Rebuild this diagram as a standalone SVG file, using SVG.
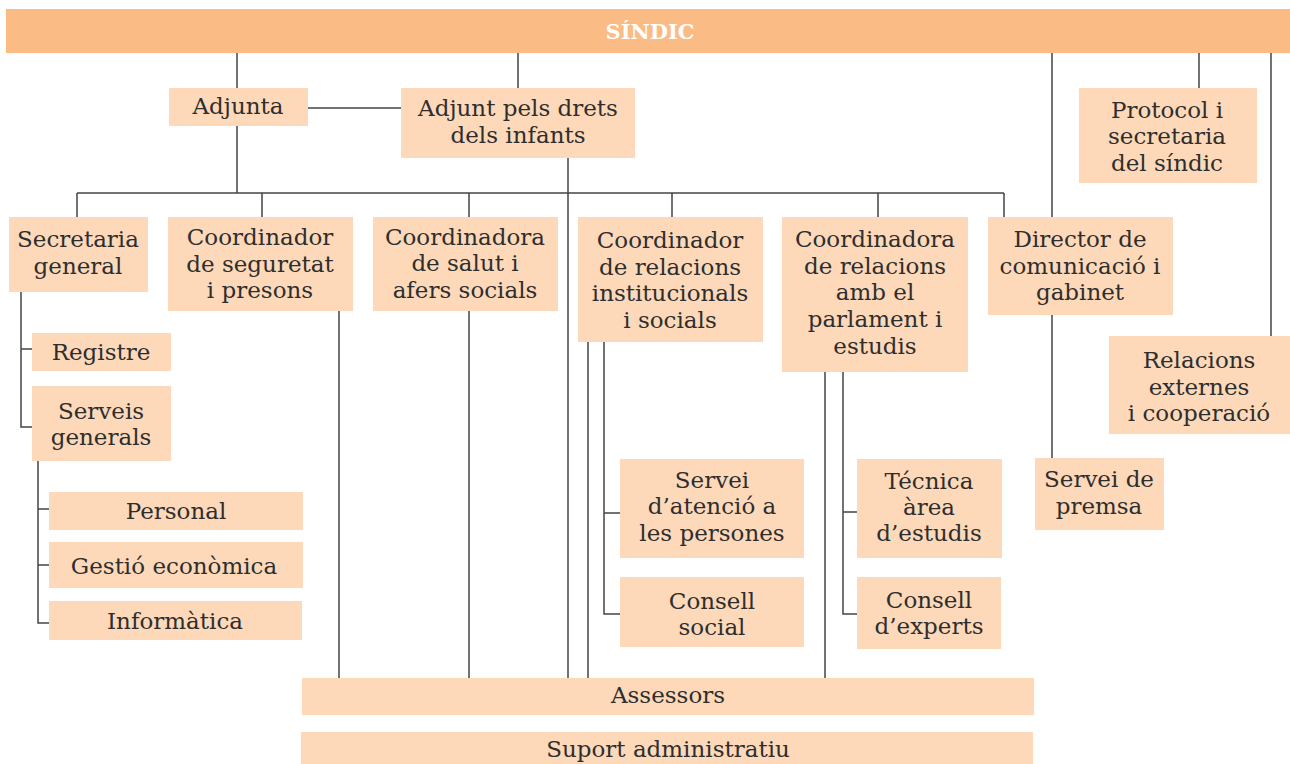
<svg xmlns="http://www.w3.org/2000/svg" width="1290" height="764" viewBox="0 0 1290 764">
<style>
.b{fill:#FDD9BA}
.t{font-family:"DejaVu Serif","Liberation Serif",serif;font-size:23px;fill:#2e2e2e;text-anchor:middle;dominant-baseline:central}
.c{fill:none;stroke:#444;stroke-width:1.5}
</style>
<rect width="1290" height="764" fill="#fff"/>
<g id="connectors" class="c">
<path d="M237 53V88M518 53V88M1052 53V458M1199 53V88M1271 53V336"/>
<path d="M308 108H401"/>
<path d="M237 126V193M77 193H1004M77 193V217M262 193V217M469 193V217M672 193V217M878 193V217M1004 193V217"/>
<path d="M568 158V678"/>
<path d="M21 292V427H32M21 349H32"/>
<path d="M38 461V623H49M38 509H49M38 565H49"/>
<path d="M339 311V678M469 311V678"/>
<path d="M588 342V678M604 342V614H620M604 513H620"/>
<path d="M825 372V678M843 372V614H857M843 512H857"/>
</g>
<g id="sindic"><rect x="6" y="9" width="1284" height="44" fill="#FABB85"/><text x="650" y="31" class="t" style="fill:#fff;font-weight:bold;font-size:21px">SÍNDIC</text></g>
<g id="adjunta"><rect class="b" x="169" y="88" width="139" height="38"/><text class="t" x="238" y="106">Adjunta</text></g>
<g id="adjunt-infants"><rect class="b" x="401" y="88" width="234" height="70"/><text class="t" x="518" y="108">Adjunt pels drets</text><text class="t" x="518" y="135">dels infants</text></g>
<g id="protocol"><rect class="b" x="1079" y="88" width="178" height="95"/><text class="t" x="1167" y="110">Protocol i</text><text class="t" x="1167" y="136">secretaria</text><text class="t" x="1167" y="163">del síndic</text></g>
<g id="secretaria"><rect class="b" x="9" y="217" width="139" height="75"/><text class="t" x="78" y="239">Secretaria</text><text class="t" x="78" y="266">general</text></g>
<g id="seguretat"><rect class="b" x="168" y="217" width="185" height="94"/><text class="t" x="260" y="237">Coordinador</text><text class="t" x="260" y="264">de seguretat</text><text class="t" x="260" y="290">i presons</text></g>
<g id="salut"><rect class="b" x="373" y="217" width="185" height="94"/><text class="t" x="465" y="237">Coordinadora</text><text class="t" x="465" y="263">de salut i</text><text class="t" x="465" y="290">afers socials</text></g>
<g id="institucionals"><rect class="b" x="578" y="217" width="185" height="125"/><text class="t" x="670" y="240">Coordinador</text><text class="t" x="670" y="267">de relacions</text><text class="t" x="670" y="293">institucionals</text><text class="t" x="670" y="320">i socials</text></g>
<g id="parlament"><rect class="b" x="782" y="217" width="186" height="155"/><text class="t" x="875" y="239">Coordinadora</text><text class="t" x="875" y="266">de relacions</text><text class="t" x="875" y="292">amb el</text><text class="t" x="875" y="319">parlament i</text><text class="t" x="875" y="346">estudis</text></g>
<g id="director"><rect class="b" x="988" y="217" width="185" height="98"/><text class="t" x="1080" y="239">Director de</text><text class="t" x="1080" y="266">comunicació i</text><text class="t" x="1080" y="292">gabinet</text></g>
<g id="relacions-externes"><rect class="b" x="1109" y="336" width="181" height="98"/><text class="t" x="1199" y="360">Relacions</text><text class="t" x="1199" y="387">externes</text><text class="t" x="1199" y="413">i cooperació</text></g>
<g id="registre"><rect class="b" x="32" y="333" width="139" height="38"/><text class="t" x="101" y="352">Registre</text></g>
<g id="serveis-generals"><rect class="b" x="32" y="386" width="139" height="75"/><text class="t" x="101" y="411">Serveis</text><text class="t" x="101" y="437">generals</text></g>
<g id="personal"><rect class="b" x="49" y="492" width="254" height="38"/><text class="t" x="176" y="511">Personal</text></g>
<g id="gestio"><rect class="b" x="49" y="542" width="254" height="46"/><text class="t" x="174" y="566">Gestió econòmica</text></g>
<g id="informatica"><rect class="b" x="49" y="601" width="253" height="39"/><text class="t" x="175" y="621">Informàtica</text></g>
<g id="servei-atencio"><rect class="b" x="620" y="459" width="184" height="99"/><text class="t" x="712" y="480">Servei</text><text class="t" x="712" y="506">d’atenció a</text><text class="t" x="712" y="533">les persones</text></g>
<g id="consell-social"><rect class="b" x="620" y="577" width="184" height="70"/><text class="t" x="712" y="601">Consell</text><text class="t" x="712" y="627">social</text></g>
<g id="tecnica"><rect class="b" x="857" y="459" width="145" height="99"/><text class="t" x="929" y="481">Técnica</text><text class="t" x="929" y="507">àrea</text><text class="t" x="929" y="533">d’estudis</text></g>
<g id="consell-experts"><rect class="b" x="857" y="577" width="144" height="72"/><text class="t" x="929" y="600">Consell</text><text class="t" x="929" y="626">d’experts</text></g>
<g id="premsa"><rect class="b" x="1035" y="458" width="129" height="72"/><text class="t" x="1099" y="479">Servei de</text><text class="t" x="1099" y="506">premsa</text></g>
<g id="assessors"><rect class="b" x="302" y="678" width="732" height="37"/><text class="t" x="668" y="695">Assessors</text></g>
<g id="suport"><rect class="b" x="301" y="732" width="732" height="32"/><text class="t" x="668" y="749">Suport administratiu</text></g>
</svg>
